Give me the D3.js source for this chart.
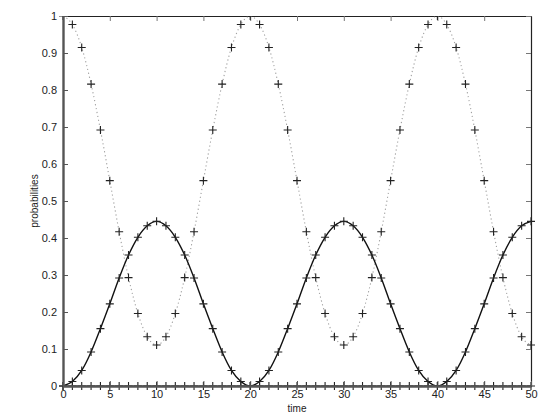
<!DOCTYPE html>
<html>
<head>
<meta charset="utf-8">
<script src="https://cdn.jsdelivr.net/npm/d3@7"></script>
<style>
    body { margin: 0; background: #fff; }
    svg { display: block; font-family: "Liberation Sans", Arial, sans-serif; }
</style>
</head>
<body>
<svg id="chart" width="545" height="416"></svg>
<script>
// time steps 0..50
const times = [0, 1, 2, 3, 4, 5, 6, 7, 8, 9, 10, 11, 12, 13, 14, 15, 16, 17, 18, 19, 20,
    21, 22, 23, 24, 25, 26, 27, 28, 29, 30, 31, 32, 33, 34, 35, 36, 37, 38, 39, 40,
    41, 42, 43, 44, 45, 46, 47, 48, 49, 50];

// dotted curve (starts at 1)
const probFirst = [1, 0.977, 0.915, 0.816, 0.692, 0.555, 0.417, 0.293, 0.196, 0.133, 0.111,
    0.133, 0.196, 0.293, 0.417, 0.555, 0.692, 0.816, 0.915, 0.977, 1,
    0.977, 0.915, 0.816, 0.692, 0.555, 0.417, 0.293, 0.196, 0.133, 0.111,
    0.133, 0.196, 0.293, 0.417, 0.555, 0.692, 0.816, 0.915, 0.977, 1,
    0.977, 0.915, 0.816, 0.692, 0.555, 0.417, 0.293, 0.196, 0.133, 0.111];

// solid curve (starts at 0)
const probSecond = [0, 0.012, 0.042, 0.092, 0.155, 0.222, 0.292, 0.354, 0.402, 0.433, 0.445,
    0.433, 0.402, 0.354, 0.292, 0.222, 0.155, 0.092, 0.042, 0.012, 0,
    0.012, 0.042, 0.092, 0.155, 0.222, 0.292, 0.354, 0.402, 0.433, 0.445,
    0.433, 0.402, 0.354, 0.292, 0.222, 0.155, 0.092, 0.042, 0.012, 0,
    0.012, 0.042, 0.092, 0.155, 0.222, 0.292, 0.354, 0.402, 0.433, 0.445];

// flat curve along the bottom
const probThird = [0, 0, 0, 0, 0, 0, 0, 0, 0, 0, 0, 0, 0, 0, 0, 0, 0, 0, 0, 0, 0,
    0, 0, 0, 0, 0, 0, 0, 0, 0, 0, 0, 0, 0, 0, 0, 0, 0, 0, 0, 0,
    0, 0, 0, 0, 0, 0, 0, 0, 0, 0];

const xTicks = [0, 5, 10, 15, 20, 25, 30, 35, 40, 45, 50];
const yTicks = [0, 0.1, 0.2, 0.3, 0.4, 0.5, 0.6, 0.7, 0.8, 0.9, 1];

function drawChart() {
    const svg = d3.select("#chart");
    const width = 545;
    const height = 416;
    const margin = { top: 16, right: 14, bottom: 30, left: 63 };

    const x = d3.scaleLinear().domain([0, 50]).range([margin.left, width - margin.right]);
    const y = d3.scaleLinear().domain([0, 1]).range([height - margin.bottom, margin.top]);

    // markers touching the top frame are cut off, as in the original
    svg.append("defs").append("clipPath")
        .attr("id", "plotClip")
        .append("rect")
        .attr("x", margin.left - 8)
        .attr("y", margin.top)
        .attr("width", width - margin.left - margin.right + 16)
        .attr("height", height - margin.top);

    // top and right frame ticks (inward)
    svg.append("g")
        .attr("transform", `translate(0,${margin.top})`)
        .call(d3.axisTop(x).tickValues(xTicks).tickSizeInner(-5).tickSizeOuter(0).tickFormat(""))
        .call((g) => g.selectAll("line").attr("stroke", "#777"))
        .call((g) => g.select(".domain").attr("stroke", "#222").attr("stroke-width", 1.2));

    svg.append("g")
        .attr("transform", `translate(${width - margin.right},0)`)
        .call(d3.axisRight(y).tickValues(yTicks).tickSizeInner(-5).tickSizeOuter(0).tickFormat(""))
        .call((g) => g.selectAll("line").attr("stroke", "#777"))
        .call((g) => g.select(".domain").attr("stroke", "#222").attr("stroke-width", 1.2));

    const series = [
        { values: probFirst, dash: "1.2,2.8", stroke: "#a0a0a0", width: 1.1 },
        { values: probSecond, dash: null, stroke: "#111", width: 1.4 },
        { values: probThird, dash: null, stroke: "#333", width: 1 },
    ];

    const line = d3.line()
        .x((d, i) => x(times[i]))
        .y((d) => y(d))
        .curve(d3.curveMonotoneX);

    const plot = svg.append("g").attr("clip-path", "url(#plotClip)");

    series.forEach((s) => {
        plot.append("path")
            .datum(s.values)
            .attr("fill", "none")
            .attr("stroke", s.stroke)
            .attr("stroke-width", s.width)
            .attr("stroke-dasharray", s.dash)
            .attr("d", line);
    });

    // plus markers
    const half = 4;
    series.forEach((s) => {
        const g = plot.append("g").attr("stroke", "#222").attr("stroke-width", 1.1);
        g.selectAll("path")
            .data(s.values)
            .enter()
            .append("path")
            .attr("d", (d, i) => {
                const cx = x(times[i]);
                const cy = y(d);
                return `M${cx - half},${cy}H${cx + half}M${cx},${cy - half}V${cy + half}`;
            });
    });

    // left and bottom axes
    const xAxis = svg.append("g")
        .attr("transform", `translate(0,${height - margin.bottom})`)
        .call(d3.axisBottom(x).tickValues(xTicks).tickSizeInner(-5).tickSizeOuter(0).tickPadding(4));
    xAxis.select(".domain").attr("stroke", "#555").attr("stroke-width", 2.4);
    xAxis.selectAll("line").attr("stroke", "#555");
    xAxis.selectAll("text").attr("font-size", 11).attr("fill", "#222");

    const yAxis = svg.append("g")
        .attr("transform", `translate(${margin.left},0)`)
        .call(d3.axisLeft(y).tickValues(yTicks).tickSizeInner(-5).tickSizeOuter(0).tickPadding(6)
            .tickFormat((d) => d3.format("")(+d.toFixed(1))));
    yAxis.select(".domain").attr("stroke", "#555").attr("stroke-width", 2.4);
    yAxis.selectAll("line").attr("stroke", "#555");
    yAxis.selectAll("text").attr("font-size", 11).attr("fill", "#222");

    svg.append("text")
        .attr("x", x(25))
        .attr("y", height - 4)
        .attr("text-anchor", "middle")
        .attr("font-size", 10)
        .attr("fill", "#222")
        .text("time");

    svg.append("text")
        .attr("transform", `translate(38,${y(0.5)}) rotate(-90)`)
        .attr("text-anchor", "middle")
        .attr("font-size", 10)
        .attr("fill", "#222")
        .text("probabilities");
}

drawChart();
</script>
</body>
</html>
